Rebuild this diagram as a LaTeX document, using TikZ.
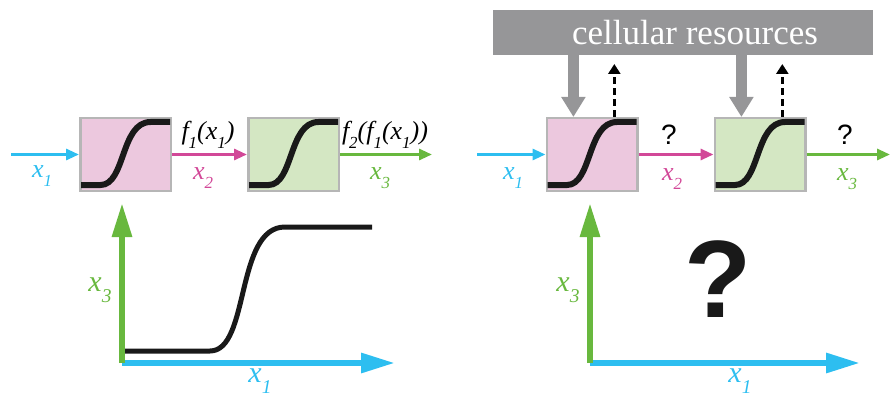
\documentclass[tikz,border=0pt]{standalone}
\usepackage{fontspec}
\setmainfont{Liberation Serif}
\newfontfamily\qfont{Liberation Sans}
\usetikzlibrary{arrows.meta,positioning,calc}
\definecolor{sigcyan}{RGB}{45,190,240}
\definecolor{sigpink}{RGB}{210,72,152}
\definecolor{siggreen}{RGB}{104,184,62}
\definecolor{boxpink}{RGB}{236,200,222}
\definecolor{boxgreen}{RGB}{212,231,195}
\definecolor{boxgray}{RGB}{182,182,182}
\definecolor{resgray}{RGB}{150,150,152}

\tikzset{
  gatebox/.style={draw=boxgray, line width=2.5pt, minimum width=90.5pt, minimum height=72.5pt, inner sep=0pt},
  sig/.style={line width=6pt, black!90},
  wire/.style={line width=3pt, -{Triangle[length=13pt,width=11pt]}},
  axis/.style={line width=6pt, -{Triangle[length=34pt,width=19pt]}},
  resarrow/.style={resgray, line width=11pt, -{Triangle[length=20pt,width=23pt]}},
  fluxarrow/.style={line width=3pt, dash pattern=on 7pt off 4pt, -{Triangle[length=10pt,width=12pt]}},
  lab/.style={font=\fontsize{26}{30}\selectfont\itshape, inner sep=0pt},
  axlab/.style={font=\fontsize{30}{34}\selectfont\itshape, inner sep=0pt},
  qmark/.style={font=\fontsize{28}{32}\selectfont\qfont, inner sep=0pt},
}
\newcommand{\idx}[1]{\raisebox{-0.35em}{\scalebox{0.65}{#1}}}
\newcommand{\sigcurve}[1]{%
  \begin{scope}[shift={(#1.center)}]
    \draw[sig] (-44.5,30.5) -- (-25,30.5) .. controls (0,30.5) and (-5,-32.5) .. (25,-32.5) -- (44.5,-32.5);
  \end{scope}}

\begin{document}
\begin{tikzpicture}[x=1pt,y=-1pt]
  \useasboundingbox (0,0) rectangle (890,398);

  % left: known transfer functions
  \node[gatebox, fill=boxpink] (g1) at (125.5,154.5) {};
  \node[gatebox, fill=boxgreen] (g2) at (293.5,154.5) {};
  \sigcurve{g1}
  \sigcurve{g2}
  \coordinate (in1) at (11,154.5);
  \coordinate (out1) at (432,154.5);
  \draw[wire, sigcyan] (in1) -- (g1);
  \draw[wire, sigpink] (g1) -- (g2);
  \draw[wire, siggreen] (g2) -- (out1);
  \node[lab, sigcyan] (lx1) at (42,176) {x\idx{1}};
  \node[lab, sigpink] (lx2) at (203,178) {x\idx{2}};
  \node[lab, siggreen] (lx3) at (380,178) {x\idx{3}};
  \node[lab] (lf1) at (208,135) {f\idx{1}(x\idx{1})};
  \node[lab] (lf2) at (385,135) {f\idx{2}(f\idx{1}(x\idx{1}))};

  % left: composed response
  \coordinate (o1) at (122,363);
  \coordinate (o1y) at (122,203);
  \coordinate (o1x) at (395,363);
  \draw[axis, sigcyan] (o1) -- (o1x);
  \draw[axis, siggreen] (o1) -- (o1y);
  \draw[line width=5pt, black!90] (125,351) -- (210,351) .. controls (250,351) and (235,227) .. (285,227) -- (372,227);
  \node[axlab, siggreen] (ax3) at (100,290) {x\idx{3}};
  \node[axlab, sigcyan] (ax1) at (260,381) {x\idx{1}};

  % right: shared cellular resources
  \node[fill=resgray, minimum width=380pt, minimum height=45pt, inner sep=0pt] (res) at (683,32.5) {};
  \node[font=\fontsize{35}{40}\selectfont, text=white, inner sep=0pt] (restext) at ([xshift=12]res.center) {cellular resources};
  \node[gatebox, fill=boxpink] (g3) at (592,154.5) {};
  \node[gatebox, fill=boxgreen] (g4) at (760,154.5) {};
  \sigcurve{g3}
  \sigcurve{g4}
  \foreach \g in {g3,g4} {
    \coordinate (\g take) at ($(\g.north west)!0.30!(\g.north east)$);
    \coordinate (\g give) at ($(\g.north west)!0.74!(\g.north east)$);
    \draw[resarrow] (res.south -| \g take) -- (\g take);
    \draw[fluxarrow] (\g give) -- ++(0,-53);
  }
  \coordinate (in2) at (477,154.5);
  \coordinate (out2) at (890,154.5);
  \draw[wire, sigcyan] (in2) -- (g3);
  \draw[wire, sigpink] (g3) -- (g4);
  \draw[wire, siggreen] (g4) -- (out2);
  \node[lab, sigcyan] (rx1) at (513,178) {x\idx{1}};
  \node[lab, sigpink] (rx2) at (672,179) {x\idx{2}};
  \node[lab, siggreen] (rx3) at (847,179) {x\idx{3}};
  \node[qmark] (q1) at (669,135) {?};
  \node[qmark] (q2) at (845,135) {?};

  % right: unknown composed response
  \coordinate (o2) at (590,363);
  \coordinate (o2y) at (590,203);
  \coordinate (o2x) at (860,363);
  \draw[axis, sigcyan] (o2) -- (o2x);
  \draw[axis, siggreen] (o2) -- (o2y);
  \node[axlab, siggreen] (bx3) at (568,290) {x\idx{3}};
  \node[axlab, sigcyan] (bx1) at (740,381) {x\idx{1}};
  \node[font=\fontsize{110}{120}\selectfont\qfont\bfseries, black!90, inner sep=0pt] (bigq) at (718,279) {?};
\end{tikzpicture}
\end{document}
